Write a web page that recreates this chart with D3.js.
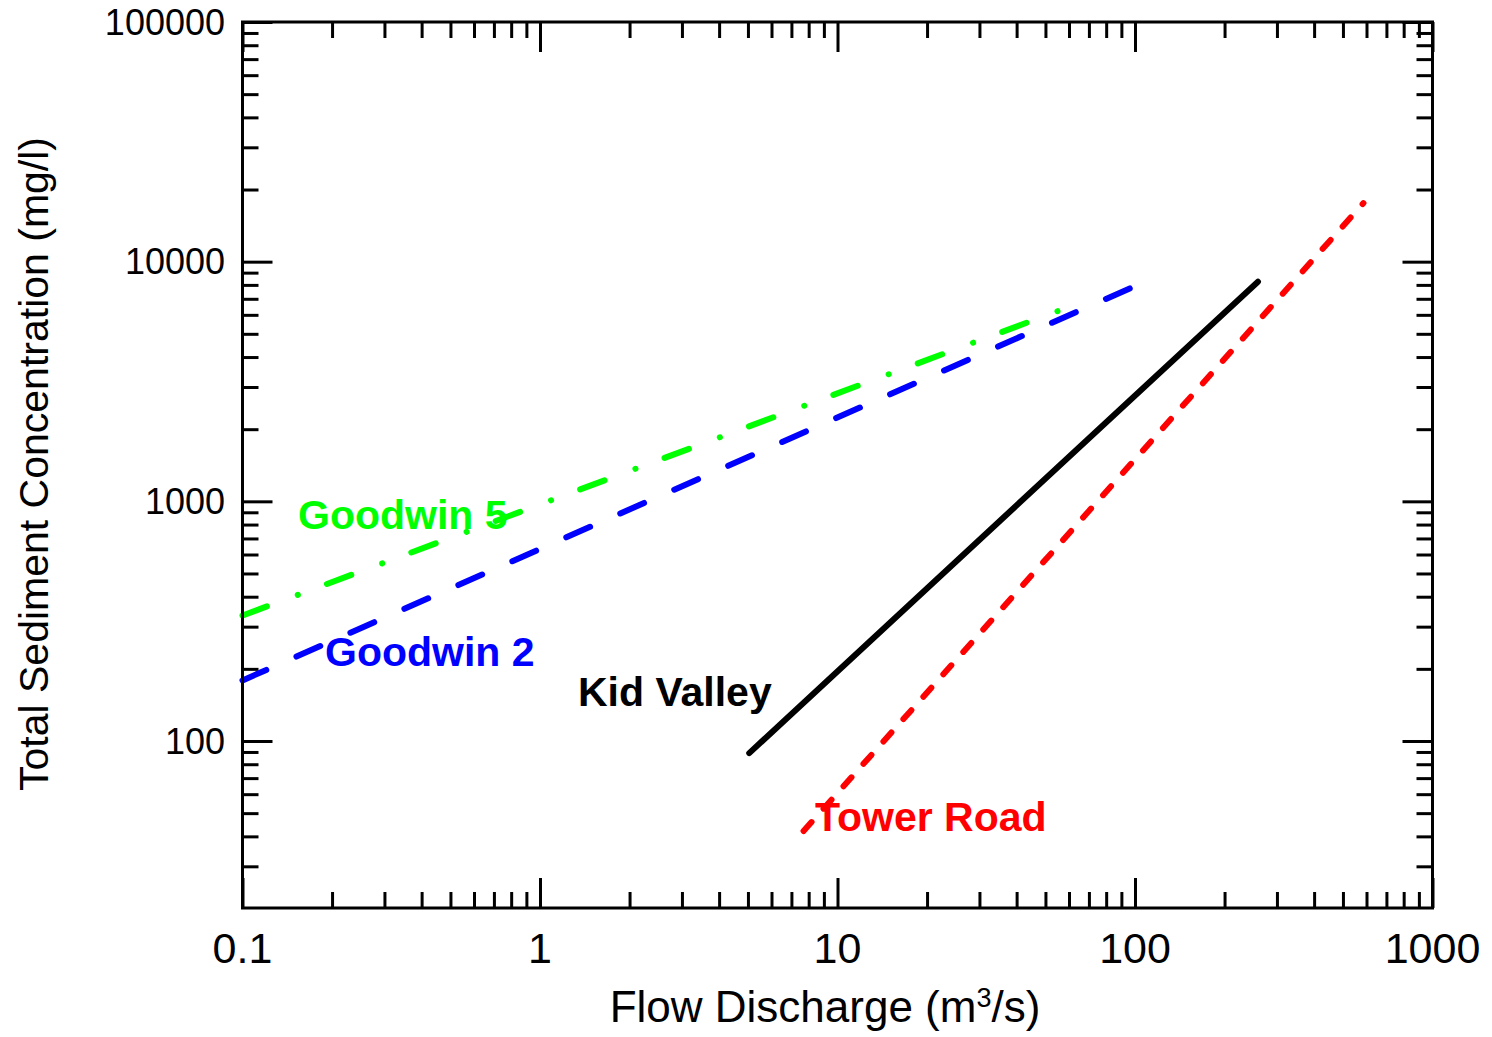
<!DOCTYPE html>
<html><head><meta charset="utf-8">
<script src="https://cdn.jsdelivr.net/npm/d3@7"></script>
<style>body{margin:0;background:#fff}svg{display:block}text{font-family:"Liberation Sans",Arial,sans-serif}</style>
</head><body>
<script>
// ---- data ----
const seriesNames = ["Goodwin 5", "Goodwin 2", "Kid Valley", "Tower Road"];
const seriesX = [[0.1, 56.0], [0.1, 100], [5.05, 259], [7.69, 586]];
const seriesY = [[334, 6270], [179, 7910], [89, 8250], [42.1, 17550]];
const labelX = [0.1537, 0.1894, 1.342, 8.40];
const labelY = [764, 206.5, 139.3, 42.3];
const xTickLabels = ["0.1", "1", "10", "100", "1000"];
const xTicks = [0.1, 1, 10, 100, 1000];
const yTickLabels = ["100", "1000", "10000", "100000"];
const yTicks = [100, 1000, 10000, 100000];
const xDomain = [0.1, 1000];
const yDomain = [20.1, 100000];
const xTitle = "Flow Discharge (m";
const yTitle = "Total Sediment Concentration (mg/l)";

// ---- styles ----
const colors = ["#00ff00", "#0000ff", "#000000", "#ff0000"];
const dashes = ["26 33 0.1 31", "26 33", null, "12 18"];

const W = 1492, H = 1037;
const L = 242.5, R = 1432.5, T = 22, B = 908;
const svg = d3.select("body").append("svg").attr("width", W).attr("height", H);
const x = d3.scaleLog().domain(xDomain).range([L, R]);
const y = d3.scaleLog().domain(yDomain).range([B, T]);

function minors(lo, hi) {
  const out = [];
  for (let e = Math.floor(Math.log10(lo)); e <= Math.ceil(Math.log10(hi)); e++) {
    for (let m = 2; m <= 9; m++) { const v = m * Math.pow(10, e); if (v >= lo * 0.999 && v <= hi * 1.001) out.push(v); }
  }
  return out;
}
const xMin = minors(xDomain[0], xDomain[1]);
const yMin = minors(yDomain[0], yDomain[1]).filter(v => v > yDomain[0] * 1.01);

function drawAxis(axis, tr, vals, size) {
  const g = svg.append("g").attr("transform", tr).call(axis.tickValues(vals).tickSize(size).tickFormat(""));
  g.select(".domain").remove();
  g.selectAll(".tick line").attr("stroke", "#000").attr("stroke-width", 3);
  g.selectAll(".tick text").remove();
}
drawAxis(d3.axisBottom(x), `translate(0,${B})`, xTicks, -30);
drawAxis(d3.axisBottom(x), `translate(0,${B})`, xMin, -16);
drawAxis(d3.axisTop(x), `translate(0,${T})`, xTicks, -30);
drawAxis(d3.axisTop(x), `translate(0,${T})`, xMin, -16);
drawAxis(d3.axisLeft(y), `translate(${L},0)`, yTicks, -30);
drawAxis(d3.axisLeft(y), `translate(${L},0)`, yMin, -16);
drawAxis(d3.axisRight(y), `translate(${R},0)`, yTicks, -30);
drawAxis(d3.axisRight(y), `translate(${R},0)`, yMin, -16);

// lines
const line = d3.line().x(d => x(d[0])).y(d => y(d[1]));
seriesNames.forEach((n, i) => {
  const pts = seriesX[i].map((v, k) => [v, seriesY[i][k]]);
  svg.append("path").attr("d", line(pts)).attr("fill", "none")
    .attr("stroke", colors[i]).attr("stroke-width", 6).attr("stroke-linecap", "round")
    .attr("stroke-dasharray", dashes[i]);
});

// frame
svg.append("rect").attr("x", L).attr("y", T).attr("width", R - L).attr("height", B - T)
  .attr("fill", "none").attr("stroke", "#000").attr("stroke-width", 3);

// series labels
seriesNames.forEach((n, i) => {
  svg.append("text").attr("x", x(labelX[i])).attr("y", y(labelY[i]))
    .attr("fill", colors[i]).attr("font-weight", "bold").attr("font-size", 41).text(n);
});

// tick labels
xTicks.forEach((v, i) => svg.append("text").attr("x", x(v)).attr("y", 963)
  .attr("text-anchor", "middle").attr("font-size", 43).text(xTickLabels[i]));
yTicks.forEach((v, i) => svg.append("text").attr("x", 225).attr("y", y(v)).attr("dy", "0.35em")
  .attr("text-anchor", "end").attr("font-size", 36).text(yTickLabels[i]));

// axis titles
const xt = svg.append("text").attr("x", 825).attr("y", 1022).attr("text-anchor", "middle").attr("font-size", 44);
xt.append("tspan").text(xTitle);
xt.append("tspan").attr("font-size", 27).attr("dy", -15).text("3");
xt.append("tspan").attr("dy", 15).text("/s)");
svg.append("text").attr("transform", "translate(48,464) rotate(-90)").attr("text-anchor", "middle")
  .attr("font-size", 41).text(yTitle);
</script>
</body></html>
